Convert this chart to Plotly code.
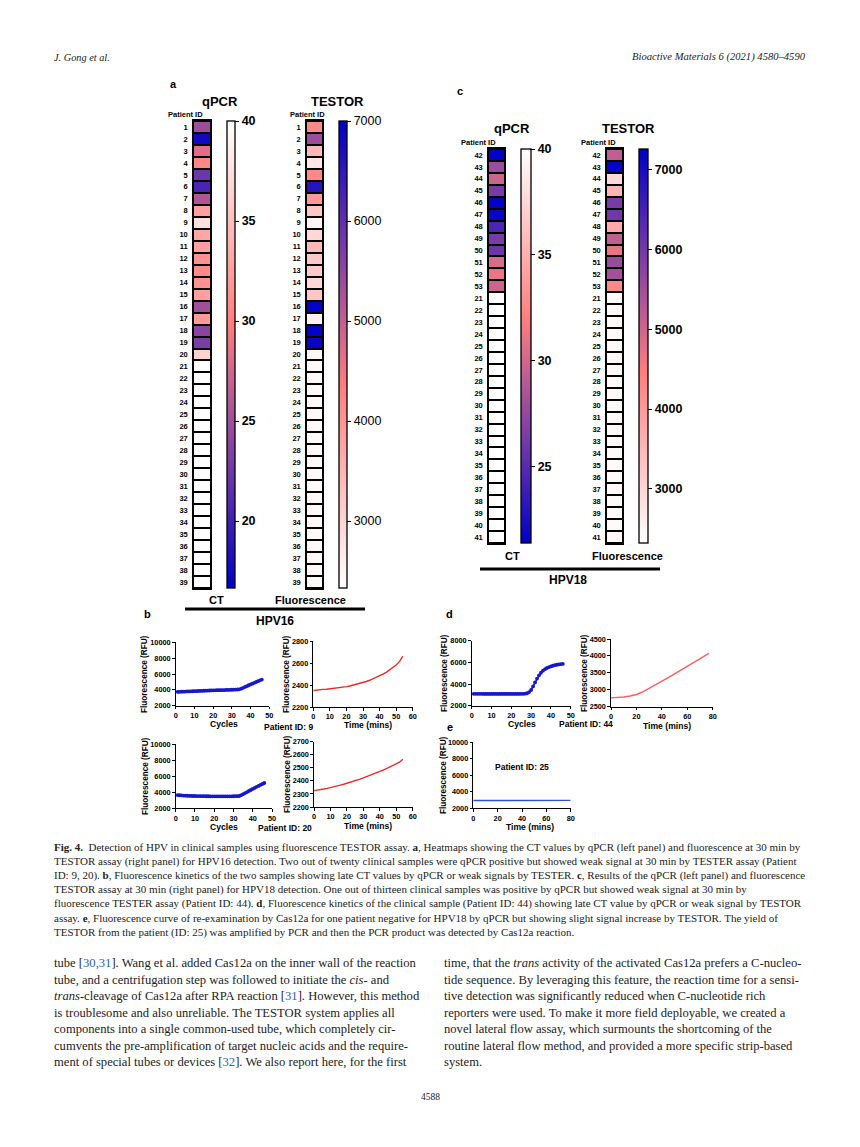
import plotly.graph_objects as go

# page is 860x1147; the html body adds an 8px margin, so the figure is 852x1139 placed at (8, 8)
PAGE_OFF = 8
FW, FH = 852, 1139

# ---------------- DATA ----------------
ids_hpv16 = ["1", "2", "3", "4", "5", "6", "7", "8", "9", "10", "11", "12", "13", "14", "15", "16", "17", "18", "19", "20",
             "21", "22", "23", "24", "25", "26", "27", "28", "29", "30", "31", "32", "33", "34", "35", "36", "37", "38", "39"]
ct_hpv16 = [24.8, 17.5, 28.3, 30.5, 22.4, 20.5, 25.8, 32.5, 37.6, 33.0, 32.5, 31.4, 30.8, 31.4, 32.5, 25.0, 32.0, 23.9, 23.0, 36.4,
            40, 40, 40, 40, 40, 40, 40, 40, 40, 40, 40, 40, 40, 40, 40, 40, 40, 40, 40]
fl_hpv16 = [4200, 5365, 3450, 2700, 4200, 6580, 3940, 3220, 2470, 2940, 3450, 3220, 3180, 2940, 3220, 6950, 2560, 6950, 6900, 2470,
            2420, 2420, 2420, 2420, 2420, 2420, 2420, 2420, 2420, 2420, 2420, 2420, 2420, 2420, 2420, 2420, 2420, 2420, 2420]

ids_hpv18 = ["42", "43", "44", "45", "46", "47", "48", "49", "50", "51", "52", "53",
             "21", "22", "23", "24", "25", "26", "27", "28", "29", "30", "31", "32", "33", "34", "35", "36", "37", "38", "39", "40", "41"]
ct_hpv18 = [21.5, 27.8, 29.8, 26.4, 21.6, 21.8, 24.5, 26.4, 25.9, 30.4, 31.1, 29.8,
            40, 40, 40, 40, 40, 40, 40, 40, 40, 40, 40, 40, 40, 40, 40, 40, 40, 40, 40, 40, 40]
fl_hpv18 = [5140, 7200, 2960, 3570, 5930, 6025, 3750, 5140, 4690, 5580, 5480, 4300,
            2420, 2420, 2420, 2420, 2420, 2420, 2420, 2420, 2420, 2420, 2420, 2420, 2420, 2420, 2420, 2420, 2420, 2420, 2420, 2420, 2420]

ct_ticks_a = [20, 25, 30, 35, 40]
fl_ticks_a = [3000, 4000, 5000, 6000, 7000]
ct_ticks_c = [25, 30, 35, 40]
fl_ticks_c = [3000, 4000, 5000, 6000, 7000]

cycles = [1, 2, 3, 4, 5, 6, 7, 8, 9, 10, 11, 12, 13, 14, 15, 16, 17, 18, 19, 20, 21, 22, 23,
          24, 25, 26, 27, 28, 29, 30, 31, 32, 33, 34, 35, 36, 37, 38, 39, 40, 41, 42, 43, 44, 45, 46]
qpcr_p9 = [3750, 3755, 3765, 3775, 3785, 3795, 3805, 3815, 3825, 3835,
           3845, 3855, 3865, 3875, 3885, 3895, 3905, 3915, 3925, 3935,
           3945, 3955, 3960, 3965, 3970, 3975, 3985, 3995, 4005, 4015,
           4025, 4035, 4045, 4060, 4150, 4260, 4370, 4470, 4580, 4680,
           4780, 4890, 4990, 5090, 5200, 5300]
qpcr_p20 = [3650, 3630, 3610, 3595, 3580, 3570, 3560, 3550, 3540, 3535,
            3530, 3525, 3520, 3515, 3510, 3505, 3505, 3500, 3500, 3500,
            3500, 3500, 3500, 3500, 3500, 3500, 3500, 3500, 3500, 3505,
            3510, 3520, 3540, 3640, 3770, 3900, 4030, 4160, 4290, 4420,
            4550, 4680, 4800, 4920, 5040, 5160]
qpcr_p44 = [3100, 3100, 3095, 3095, 3095, 3090, 3090, 3090, 3090, 3090,
            3090, 3085, 3085, 3085, 3085, 3085, 3085, 3085, 3085, 3085,
            3085, 3085, 3085, 3090, 3095, 3100, 3110, 3150, 3260, 3450,
            3780, 4150, 4500, 4800, 5040, 5230, 5370, 5480, 5560, 5630,
            5690, 5740, 5780, 5810, 5835, 5855]

time_b = [0, 2, 4, 6, 8, 10, 12, 14, 16, 18, 20, 22, 24, 26, 28, 30, 32, 34, 36, 38, 40, 42, 44, 46, 48, 50, 52, 54]
testor_p9 = [2350, 2355, 2358, 2360, 2362, 2365, 2368, 2372, 2376, 2380, 2385, 2391, 2398, 2405,
             2413, 2422, 2432, 2443, 2455, 2468, 2482, 2498, 2515, 2535, 2557, 2582, 2612, 2660]
testor_p20 = [2325, 2328, 2333, 2338, 2343, 2348, 2354, 2360, 2367, 2374, 2381, 2389, 2397, 2405,
              2414, 2423, 2432, 2441, 2451, 2461, 2472, 2482, 2493, 2504, 2515, 2528, 2543, 2565]
time_d = [0, 5, 10, 15, 20, 25, 30, 35, 40, 45, 50, 55, 60, 65, 70, 75, 77]
testor_p44 = [2760, 2765, 2785, 2815, 2860, 2940, 3040, 3145, 3250, 3360, 3470, 3580, 3690, 3800, 3910, 4020, 4075]
time_e = [0, 10, 20, 30, 40, 50, 60, 70, 80]
cas12a_p25 = [2950, 2950, 2952, 2953, 2954, 2955, 2956, 2958, 2960]

# ---------------- HELPERS ----------------
def fx(x):
    return (x - PAGE_OFF) / FW

def fy(y):
    return 1 - (y - PAGE_OFF) / FH

SANS = "Liberation Sans"
SERIF = "Liberation Serif"
CS = [[0, "#0000C8"], [0.57, "#FF7F7F"], [1, "#FFFFFF"]]

fig = go.Figure()
layout = {}
shapes = []
annotations = []
counter = [0]


def new_axes(x0, x1, y0, y1, xopt, yopt):
    counter[0] += 1
    n = counter[0]
    xs = "x" if n == 1 else f"x{n}"
    ys = "y" if n == 1 else f"y{n}"
    xk = "xaxis" if n == 1 else f"xaxis{n}"
    yk = "yaxis" if n == 1 else f"yaxis{n}"
    xo = dict(domain=[fx(x0), fx(x1)], anchor=ys, fixedrange=True)
    xo.update(xopt)
    yo = dict(domain=[fy(y1), fy(y0)], anchor=xs, fixedrange=True)
    yo.update(yopt)
    layout[xk] = xo
    layout[yk] = yo
    return xs, ys


def heat(ids, vals, label, zmin, zmax, rev, box, cb, ticks, bold):
    x0, x1, y0, y1 = box
    xa, ya = new_axes(
        x0, x1, y0, y1,
        dict(showticklabels=False, ticks="", showline=True, mirror=True, linecolor="black",
             linewidth=1.5, showgrid=False, zeroline=False),
        dict(type="category", categoryorder="array", categoryarray=ids, autorange="reversed",
             showline=True, mirror=True, linecolor="black", linewidth=1.5, showgrid=False,
             zeroline=False, ticks="", ticklabelstandoff=3,
             tickfont=dict(family=SANS, size=7.5, color="black", weight="bold")))
    shapes.append(dict(type="rect", xref=f"{xa} domain", yref=f"{ya} domain", x0=0, x1=1, y0=0, y1=1,
                       fillcolor="black", line=dict(width=0), layer="below"))
    cbx0, cbx1 = cb
    fig.add_trace(go.Heatmap(
        z=[[v] for v in vals], x=[label], y=ids, colorscale=CS, reversescale=rev,
        zmin=zmin, zmax=zmax, ygap=2, xgap=0, hoverinfo="skip", xaxis=xa, yaxis=ya,
        colorbar=dict(x=fx(cbx0), xanchor="left", xref="paper", y=fy((y0 + y1) / 2), yanchor="middle",
                      yref="paper", len=y1 - y0, lenmode="pixels", thickness=cbx1 - cbx0,
                      thicknessmode="pixels", xpad=0, ypad=0, outlinewidth=1.3, outlinecolor="black",
                      tickvals=ticks, ticks="outside", ticklen=4, tickwidth=1.2, tickcolor="black",
                      tickfont=dict(family=SANS, size=12.5, color="black", weight="bold" if bold else "normal"))))


def line_chart(box, xs, ys, color, xr, xt, yr, yt, markers):
    x0, x1, y0, y1 = box
    tf = dict(family=SANS, size=7.3, color="black", weight="bold")
    common = dict(showline=True, linecolor="black", linewidth=1.3, ticks="outside", ticklen=2.5,
                  tickwidth=1.2, tickcolor="black", showgrid=False, zeroline=False, tickfont=tf,
                  exponentformat="none", separatethousands=False, tickformat="d", ticklabelstandoff=0)
    xo = dict(range=xr, tickvals=xt)
    xo.update(common)
    yo = dict(range=yr, tickvals=yt)
    yo.update(common)
    xa, ya = new_axes(x0, x1, y0, y1, xo, yo)
    if markers:
        fig.add_trace(go.Scatter(x=xs, y=ys, mode="lines+markers", line=dict(color=color, width=1.6),
                                 marker=dict(size=3.8, color=color), hoverinfo="skip", xaxis=xa, yaxis=ya,
                                 showlegend=False, cliponaxis=False))
    else:
        fig.add_trace(go.Scatter(x=xs, y=ys, mode="lines", line=dict(color=color, width=1.4),
                                 hoverinfo="skip", xaxis=xa, yaxis=ya, showlegend=False, cliponaxis=False))


def text(x, y, s, size=9, bold=True, anchor="center", family=SANS, color="black", angle=0):
    annotations.append(dict(x=fx(x), y=fy(y), xref="paper", yref="paper", text=s, showarrow=False,
                            xanchor=anchor, yanchor="middle", textangle=angle,
                            font=dict(family=family, size=size, color=color,
                                      weight="bold" if bold else "normal")))

# ---------------- HEATMAPS ----------------
heat(ids_hpv16, ct_hpv16, "CT", 16.65, 40, False, (194, 210, 121, 588), (227, 235), ct_ticks_a, True)
heat(ids_hpv16, fl_hpv16, "Fluorescence", 2330, 7000, True, (307, 322, 121, 588), (339, 347), fl_ticks_a, False)
heat(ids_hpv18, ct_hpv18, "CT", 21.4, 40, False, (489, 504, 149, 543), (521, 531), ct_ticks_c, True)
heat(ids_hpv18, fl_hpv18, "Fluorescence", 2320, 7260, True, (607, 622, 149, 543), (639, 648), fl_ticks_c, True)

# ---------------- LINE CHARTS ----------------
BLUE = "#1717CC"
line_chart((175.7, 269.3, 642.3, 705.7), cycles, qpcr_p9, BLUE, [0, 50], [0, 10, 20, 30, 40, 50],
           [2000, 10000], [2000, 4000, 6000, 8000, 10000], True)
line_chart((313.3, 412.7, 641, 707), time_b, testor_p9, "#F02828", [0, 60], [0, 10, 20, 30, 40, 50, 60],
           [2200, 2800], [2200, 2400, 2600, 2800], False)
line_chart((175.7, 272, 744.3, 808.3), cycles, qpcr_p20, BLUE, [0, 50], [0, 10, 20, 30, 40, 50],
           [2000, 10000], [2000, 4000, 6000, 8000, 10000], True)
line_chart((314, 412.7, 741.7, 807), time_b, testor_p20, "#F02828", [0, 60], [0, 10, 20, 30, 40, 50, 60],
           [2200, 2700], [2200, 2300, 2400, 2500, 2600, 2700], False)
line_chart((471.7, 570.7, 640.7, 705.7), cycles, qpcr_p44, BLUE, [0, 50], [0, 10, 20, 30, 40, 50],
           [2000, 8000], [2000, 4000, 6000, 8000], True)
line_chart((611, 712.7, 639, 706.7), time_d, testor_p44, "#FF5C5C", [0, 80], [0, 20, 40, 60, 80],
           [2500, 4500], [2500, 3000, 3500, 4000, 4500], False)
line_chart((473.3, 570.7, 742.3, 808.3), time_e, cas12a_p25, "#2E4FE0", [0, 80], [0, 20, 40, 60, 80],
           [2000, 10000], [2000, 4000, 6000, 8000, 10000], False)

# ---------------- FIGURE TEXT ----------------
text(173, 84, "a", 11)
text(460, 91, "c", 11)
text(147, 614, "b", 11)
text(449, 614, "d", 11)
text(450, 727, "e", 11)

text(220, 101, "qPCR", 13)
text(337, 101, "TESTOR", 13)
text(512, 128, "qPCR", 13)
text(628, 128, "TESTOR", 13)
for (x, y) in [(185, 115), (307, 115), (478, 142), (598, 142)]:
    text(x, y, "Patient ID", 7.5)
text(216, 600, "CT", 11)
text(310, 600, "Fluorescence", 11)
text(513, 556, "CT", 11)
text(627, 556, "Fluorescence", 11)
text(275, 621, "HPV16", 12)
text(568, 580, "HPV18", 12)
shapes.append(dict(type="line", xref="paper", yref="paper", x0=fx(185), x1=fx(365), y0=fy(609), y1=fy(609),
                   line=dict(color="black", width=3)))
shapes.append(dict(type="line", xref="paper", yref="paper", x0=fx(480), x1=fx(660), y0=fy(569), y1=fy(569),
                   line=dict(color="black", width=3)))

for (x, y) in [(144, 674), (286, 674), (145, 776), (287, 774), (444, 673), (584, 673), (443, 775)]:
    text(x, y, "Fluorescence (RFU)", 8.2, angle=-90)
text(224, 724, "Cycles", 8.6)
text(368, 725, "Time (mins)", 8.6)
text(224, 826.5, "Cycles", 8.6)
text(368, 826, "Time (mins)", 8.6)
text(522, 724, "Cycles", 8.6)
text(667, 726, "Time (mins)", 8.6)
text(530, 826.5, "Time (mins)", 8.6)
text(288, 727, "Patient ID: 9", 8.5)
text(285, 828, "Patient ID: 20", 8.5)
text(586, 724, "Patient ID: 44", 8.5)
text(522, 767, "Patient ID: 25", 8.5)

# ---------------- PAGE TEXT ----------------
text(52, 57, "<i>J. Gong et al.</i>", 10.3, bold=False, anchor="left", family=SERIF, color="#222")
text(808, 57, "<i>Bioactive Materials 6 (2021) 4580–4590</i>", 10.6, bold=False, anchor="right", family=SERIF, color="#222")

caption = [
    "<b>Fig. 4.</b>  Detection of HPV in clinical samples using fluorescence TESTOR assay. <b>a</b>, Heatmaps showing the CT values by qPCR (left panel) and fluorescence at 30 min by",
    "TESTOR assay (right panel) for HPV16 detection. Two out of twenty clinical samples were qPCR positive but showed weak signal at 30 min by TESTER assay (Patient",
    "ID: 9, 20). <b>b</b>, Fluorescence kinetics of the two samples showing late CT values by qPCR or weak signals by TESTER. <b>c</b>, Results of the qPCR (left panel) and fluorescence",
    "TESTOR assay at 30 min (right panel) for HPV18 detection. One out of thirteen clinical samples was positive by qPCR but showed weak signal at 30 min by",
    "fluorescence TESTER assay (Patient ID: 44). <b>d</b>, Fluorescence kinetics of the clinical sample (Patient ID: 44) showing late CT value by qPCR or weak signal by TESTOR",
    "assay. <b>e</b>, Fluorescence curve of re-examination by Cas12a for one patient negative for HPV18 by qPCR but showing slight signal increase by TESTOR. The yield of",
    "TESTOR from the patient (ID: 25) was amplified by PCR and then the PCR product was detected by Cas12a reaction.",
]
for i, s in enumerate(caption):
    text(52, 847 + 14.2 * i, s, 11.0, bold=False, anchor="left", family=SERIF, color="#222")

CITE = "<span style='color:#1F5FAF'>{}</span>"
left_col = [
    "tube [" + CITE.format("30,31") + "]. Wang et al. added Cas12a on the inner wall of the reaction",
    "tube, and a centrifugation step was followed to initiate the <i>cis-</i> and",
    "<i>trans</i>-cleavage of Cas12a after RPA reaction [" + CITE.format("31") + "]. However, this method",
    "is troublesome and also unreliable. The TESTOR system applies all",
    "components into a single common-used tube, which completely cir-",
    "cumvents the pre-amplification of target nucleic acids and the require-",
    "ment of special tubes or devices [" + CITE.format("32") + "]. We also report here, for the first",
]
right_col = [
    "time, that the <i>trans</i> activity of the activated Cas12a prefers a C-nucleo-",
    "tide sequence. By leveraging this feature, the reaction time for a sensi-",
    "tive detection was significantly reduced when C-nucleotide rich",
    "reporters were used. To make it more field deployable, we created a",
    "novel lateral flow assay, which surmounts the shortcoming of the",
    "routine lateral flow method, and provided a more specific strip-based",
    "system.",
]
for i, s in enumerate(left_col):
    text(52, 963 + 16.5 * i, s, 12.6, bold=False, anchor="left", family=SERIF, color="#222")
for i, s in enumerate(right_col):
    text(442, 963 + 16.5 * i, s, 12.6, bold=False, anchor="left", family=SERIF, color="#222")
text(430, 1097, "4588", 9.5, bold=False, family=SERIF, color="#222")

layout.update(dict(width=FW, height=FH, margin=dict(l=0, r=0, t=0, b=0, autoexpand=False),
                   paper_bgcolor="white", plot_bgcolor="rgba(0,0,0,0)", showlegend=False,
                   shapes=shapes, annotations=annotations))
fig.update_layout(**layout)
fig.write_html("out.html")
